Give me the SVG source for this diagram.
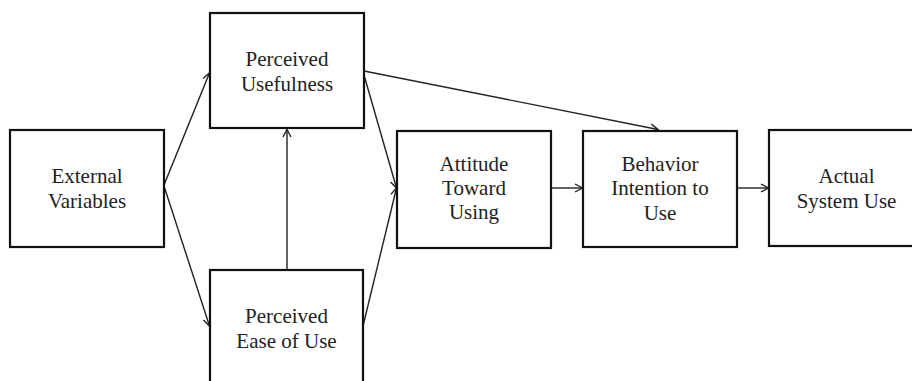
<svg xmlns="http://www.w3.org/2000/svg" width="912" height="381" viewBox="0 0 912 381">
  <style>
    .box { fill: #ffffff; stroke: #111111; stroke-width: 2.2; }
    .lbl { font-family: "Liberation Serif", "Times New Roman", serif; font-size: 21px; fill: #222222; text-anchor: middle; }
    .conn { stroke: #222222; stroke-width: 1.4; fill: none; marker-end: url(#arrow); }
  </style>
  <defs>
    <marker id="arrow" markerUnits="userSpaceOnUse" markerWidth="12" markerHeight="12" refX="8" refY="4.5" orient="auto" overflow="visible">
      <path d="M0.5,0.5 L8,4.5 L0.5,8.5" fill="none" stroke="#222222" stroke-width="1.4"/>
    </marker>
  </defs>
  <rect width="912" height="381" fill="#ffffff"/>

  <g id="connectors">
    <line class="conn" x1="164" y1="185" x2="209.5" y2="73"/>
    <line class="conn" x1="164" y1="186" x2="209.5" y2="326"/>
    <line class="conn" x1="287" y1="270" x2="287" y2="129.5"/>
    <line class="conn" x1="364" y1="75" x2="396.5" y2="188"/>
    <line class="conn" x1="363" y1="326" x2="396.5" y2="188"/>
    <line class="conn" x1="364" y1="71" x2="658" y2="129.5"/>
    <line class="conn" x1="551" y1="188" x2="582.5" y2="188"/>
    <line class="conn" x1="737" y1="188" x2="768.5" y2="188"/>
  </g>

  <g id="external-variables">
    <rect class="box" x="10" y="130" width="154" height="117"/>
    <text class="lbl" x="87" y="183">External</text>
    <text class="lbl" x="87" y="208">Variables</text>
  </g>

  <g id="perceived-usefulness">
    <rect class="box" x="210" y="13" width="154" height="115"/>
    <text class="lbl" x="287" y="66">Perceived</text>
    <text class="lbl" x="287" y="91">Usefulness</text>
  </g>

  <g id="perceived-ease-of-use">
    <rect class="box" x="210" y="270" width="153" height="116"/>
    <text class="lbl" x="286.5" y="323">Perceived</text>
    <text class="lbl" x="286.5" y="348">Ease of Use</text>
  </g>

  <g id="attitude-toward-using">
    <rect class="box" x="397" y="131" width="154" height="117"/>
    <text class="lbl" x="474" y="171">Attitude</text>
    <text class="lbl" x="474" y="195">Toward</text>
    <text class="lbl" x="474" y="219">Using</text>
  </g>

  <g id="behavior-intention">
    <rect class="box" x="583" y="131" width="154" height="116"/>
    <text class="lbl" x="660" y="171">Behavior</text>
    <text class="lbl" x="660" y="195">Intention to</text>
    <text class="lbl" x="660" y="220">Use</text>
  </g>

  <g id="actual-system-use">
    <rect class="box" x="769" y="130" width="155" height="116"/>
    <text class="lbl" x="846.5" y="183">Actual</text>
    <text class="lbl" x="846.5" y="208">System Use</text>
  </g>
</svg>
